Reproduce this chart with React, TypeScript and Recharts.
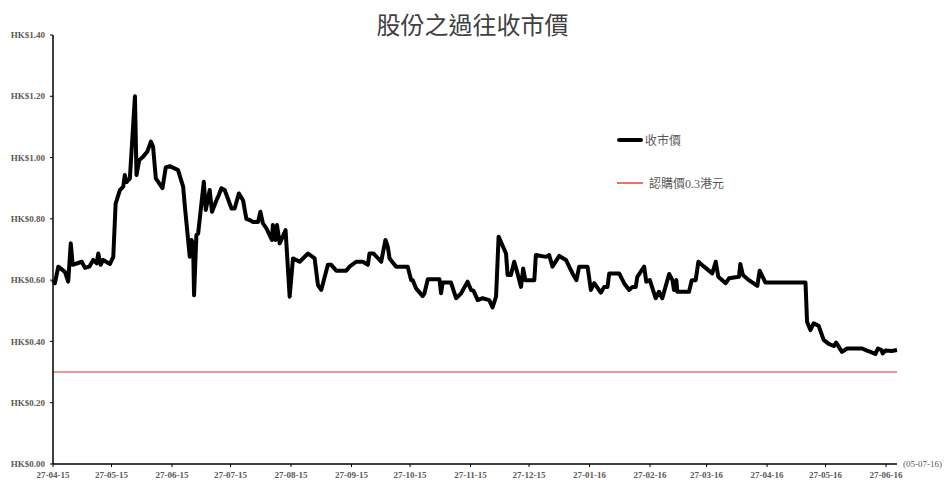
import { Line, LineChart, XAxis, YAxis } from "recharts";

// days counted from 27-04-15
const DAYS = [
  0, 1, 2.7, 6.1, 7.8, 9.1, 10.1, 14.7, 16.4, 18.6, 20.6, 22.4, 23.2, 24.4, 25.7, 29.2, 30.9, 32.1,
  34.3, 36, 36.8, 37.7, 39.4, 42, 42.8, 44.2, 46.2, 48.3, 50.2, 51.3, 52.7, 56.1, 57.8, 59.9, 64.1,
  66.7, 67.6, 70.1, 71, 71.8, 72.3, 73.5, 74.4, 77.3, 78.3, 80.3, 81.5, 83.8, 85, 86.3, 88, 91.5,
  93.1, 95.3, 97.4, 99.1, 100.8, 102.5, 105.1, 106.3, 107.6, 109.4, 112.2, 112.7, 114, 114.8, 116.2,
  119.2, 121.3, 123, 126.4, 130.7, 134.1, 135.8, 137.5, 140.9, 142.6, 145.2, 150.3, 152, 155.4,
  158.8, 161.4, 162.2, 164.3, 168.2, 170.4, 171.6, 172.5, 175.9, 181.8, 183.6, 184.4, 186.1, 189.5,
  190.4, 192.1, 198.1, 198.9, 199.7, 204, 206.6, 209.2, 212.5, 214.3, 215.5, 217.7, 220.2, 223.6,
  225.3, 227.1, 228.4, 232.2, 233, 234.7, 236.4, 238.1, 239.9, 241, 242.1, 246.7, 247.5, 252.7,
  254.3, 256, 259.5, 262.9, 266.3, 268.3, 269.7, 274, 275.7, 277.4, 280.8, 282.5, 284.2, 285.1,
  290.2, 292.7, 295.3, 297, 298.7, 299.5, 303, 304.1, 305.9, 308.9, 310.6, 312.3, 315.8, 317.5,
  318.3, 319.5, 320, 326, 327.4, 329.4, 330.8, 333.7, 337.9, 339.7, 341, 344.8, 346.5, 351.6, 352.3,
  353.6, 356.7, 361, 362.2, 365.2, 385.7, 386.5, 388.2, 389.9, 392.5, 395, 397.6, 400.2, 401.4,
  404.4, 407, 414.7, 417.2, 419, 421.5, 422.9, 424.6, 425.3, 426.6, 430, 432.6
];

const PRICES = [
  0.6, 0.59, 0.644, 0.627, 0.595, 0.72, 0.65, 0.66, 0.64, 0.644, 0.666, 0.655, 0.687, 0.65, 0.666,
  0.653, 0.676, 0.85, 0.894, 0.905, 0.943, 0.92, 0.932, 1.2, 0.943, 0.992, 1.003, 1.019, 1.052,
  1.035, 0.932, 0.9, 0.968, 0.972, 0.959, 0.905, 0.84, 0.676, 0.731, 0.72, 0.551, 0.747, 0.752,
  0.921, 0.829, 0.894, 0.823, 0.861, 0.878, 0.9, 0.894, 0.834, 0.834, 0.883, 0.861, 0.8, 0.796,
  0.79, 0.79, 0.823, 0.785, 0.769, 0.731, 0.78, 0.731, 0.78, 0.72, 0.763, 0.546, 0.671, 0.66,
  0.687, 0.671, 0.584, 0.568, 0.65, 0.65, 0.631, 0.631, 0.644, 0.66, 0.66, 0.65, 0.687, 0.687,
  0.66, 0.731, 0.709, 0.671, 0.644, 0.644, 0.6, 0.6, 0.573, 0.548, 0.557, 0.603, 0.603, 0.557,
  0.592, 0.592, 0.541, 0.557, 0.595, 0.568, 0.566, 0.535, 0.541, 0.535, 0.511, 0.546, 0.742,
  0.687, 0.617, 0.617, 0.66, 0.622, 0.578, 0.638, 0.6, 0.6, 0.682, 0.676, 0.682, 0.644, 0.679,
  0.666, 0.622, 0.6, 0.644, 0.644, 0.568, 0.59, 0.559, 0.578, 0.578, 0.622, 0.622, 0.59, 0.568,
  0.578, 0.578, 0.611, 0.644, 0.595, 0.6, 0.541, 0.562, 0.541, 0.62, 0.6, 0.568, 0.6, 0.562,
  0.562, 0.6, 0.6, 0.66, 0.644, 0.622, 0.66, 0.611, 0.59, 0.606, 0.611, 0.653, 0.617, 0.6, 0.581,
  0.631, 0.592, 0.592, 0.464, 0.437, 0.459, 0.45, 0.405, 0.392, 0.385, 0.396, 0.366, 0.377, 0.377,
  0.37, 0.366, 0.359, 0.377, 0.372, 0.361, 0.37, 0.369, 0.372
];

const STRIKE = 0.3;

const X_TICKS = [0, 30, 61, 91, 122, 153, 183, 214, 244, 275, 306, 335, 366, 396, 427];
const X_LABELS = [
  "27-04-15", "27-05-15", "27-06-15", "27-07-15", "27-08-15", "27-09-15", "27-10-15",
  "27-11-15", "27-12-15", "27-01-16", "27-02-16", "27-03-16", "27-04-16", "27-05-16", "27-06-16"
];
const Y_TICKS = [0, 0.2, 0.4, 0.6, 0.8, 1.0, 1.2, 1.4];

const data = DAYS.map((day, i) => ({ day, price: PRICES[i], strike: STRIKE }));

const FONT = "'Liberation Serif', 'Noto Sans CJK TC', serif";
const tickStyle = { fontSize: 9, fontWeight: 700, fill: "#595959", fontFamily: FONT };

function formatXTick(value: number): string {
  const i = X_TICKS.indexOf(value);
  return i >= 0 ? X_LABELS[i] : "";
}

function ChartLegend() {
  const items = [
    { label: "收市價", color: "#000000", width: 4, gap: 0 },
    { label: "認購價0.3港元", color: "#f07070", width: 1.2, gap: 4 }
  ];
  return (
    <div style={{ position: "absolute", left: 617, top: 133, fontFamily: FONT, fontSize: 12, color: "#595959" }}>
      {items.map((item, i) => (
        <div
          key={item.label}
          style={{ display: "flex", alignItems: "center", height: 14, marginTop: i === 0 ? 0 : 29 }}
        >
          <span
            style={{
              display: "inline-block",
              width: 26,
              height: item.width,
              background: item.color,
              borderRadius: item.width > 2 ? 2 : 0,
              marginRight: 2 + item.gap
            }}
          />
          <span>{item.label}</span>
        </div>
      ))}
    </div>
  );
}

export default function App() {
  return (
    <div style={{ position: "absolute", left: 0, top: 0, width: 945, height: 480, background: "#fff", fontFamily: FONT }}>
      <div
        style={{
          position: "absolute",
          left: 0,
          width: 945,
          top: 11,
          textAlign: "center",
          fontSize: 24,
          color: "#404040",
          lineHeight: "30px"
        }}
      >
        股份之過往收市價
      </div>
      <LineChart width={945} height={480} data={data} margin={{ top: 35, right: 48, bottom: 0, left: 0 }}>
        <XAxis
          dataKey="day"
          type="number"
          domain={[0, 432.6]}
          ticks={X_TICKS}
          tickFormatter={formatXTick}
          interval={0}
          height={16}
          tickSize={3}
          tickMargin={5}
          tick={tickStyle}
          axisLine={{ stroke: "#000", strokeWidth: 1.5 }}
          tickLine={{ stroke: "#000" }}
        />
        <YAxis
          type="number"
          domain={[0, 1.4]}
          ticks={Y_TICKS}
          tickFormatter={(v: number) => `HK$${v.toFixed(2)}`}
          width={53}
          tickSize={3}
          tickMargin={5}
          tick={tickStyle}
          axisLine={{ stroke: "#000", strokeWidth: 1.5 }}
          tickLine={{ stroke: "#000" }}
        />
        <Line
          type="linear"
          dataKey="strike"
          name="認購價0.3港元"
          stroke="#f07070"
          strokeWidth={1.5}
          dot={false}
          isAnimationActive={false}
        />
        <Line
          type="linear"
          dataKey="price"
          name="收市價"
          stroke="#000000"
          strokeWidth={4}
          strokeLinejoin="round"
          dot={false}
          isAnimationActive={false}
        />
      </LineChart>
      <ChartLegend />
      <div
        style={{
          position: "absolute",
          left: 903,
          top: 459,
          fontSize: 9,
          color: "#595959",
          fontFamily: FONT,
          whiteSpace: "nowrap"
        }}
      >
        (05-07-16)
      </div>
    </div>
  );
}
